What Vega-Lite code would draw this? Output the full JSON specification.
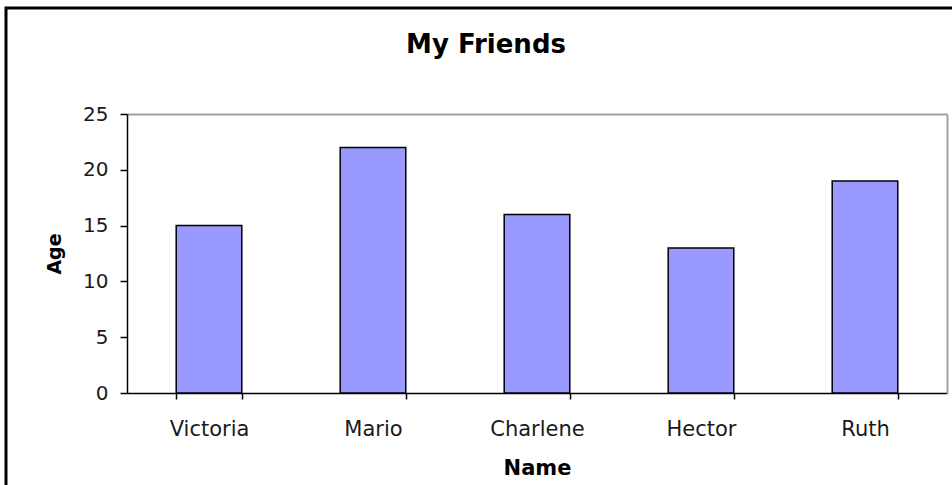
{
  "$schema": "https://vega.github.io/schema/vega-lite/v6.json",
  "autosize": "none",
  "width": 960,
  "height": 490,
  "padding": {"left": 6, "top": 8, "right": 0, "bottom": 0},
  "background": "white",
  "config": {
    "font": "DejaVu Sans",
    "view": {"stroke": "#000000", "strokeWidth": 3},
    "axis": {
      "grid": false,
      "labelFont": "DejaVu Sans",
      "labelColor": "#1a1a1a",
      "titleFont": "DejaVu Sans",
      "titleFontWeight": "bold",
      "titleColor": "#000000",
      "domainColor": "#000000",
      "tickColor": "#000000",
      "domainWidth": 1.5,
      "tickWidth": 1.5
    }
  },
  "title": {
    "text": "My Friends",
    "font": "DejaVu Sans",
    "fontSize": 26,
    "fontWeight": "bold",
    "color": "#000000",
    "anchor": "middle",
    "baseline": "alphabetic",
    "offset": -71
  },
  "data": {
    "values": [
      {"Name": "Victoria", "Age": 15},
      {"Name": "Mario", "Age": 22},
      {"Name": "Charlene", "Age": 16},
      {"Name": "Hector", "Age": 13},
      {"Name": "Ruth", "Age": 19}
    ]
  },
  "layer": [
    {
      "mark": {"type": "bar", "fill": "#9999ff", "strokeWidth": 0},
      "encoding": {
        "x": {
          "field": "Name",
          "type": "nominal",
          "sort": null,
          "scale": {"range": [121, 941], "paddingInner": 0.6, "paddingOuter": 0.3},
          "axis": {
            "orient": "bottom",
            "offset": -105,
            "title": "Name",
            "titleFontSize": 21,
            "titlePadding": 18,
            "labelFontSize": 21,
            "labelAngle": 0,
            "labelPadding": 19,
            "tickSize": 6,
            "tickBand": "extent"
          }
        },
        "y": {
          "field": "Age",
          "type": "quantitative",
          "scale": {"domain": [0, 25], "range": [385, 106], "nice": false},
          "axis": {
            "orient": "left",
            "offset": -121,
            "title": "Age",
            "titleFontSize": 19,
            "titlePadding": 18,
            "labelFontSize": 20,
            "labelPadding": 12,
            "tickSize": 7,
            "values": [0, 5, 10, 15, 20, 25]
          }
        }
      }
    },
    {
      "mark": {"type": "bar", "fillOpacity": 0, "stroke": "#000000", "strokeWidth": 1.5},
      "encoding": {
        "x": {
          "field": "Name",
          "type": "nominal",
          "sort": null,
          "axis": {
            "orient": "top",
            "offset": -106,
            "title": null,
            "labels": false,
            "ticks": false,
            "domainColor": "#a0a0a0",
            "domainWidth": 2
          }
        },
        "y": {
          "field": "Age",
          "type": "quantitative",
          "axis": {
            "orient": "right",
            "offset": -19,
            "title": null,
            "labels": false,
            "ticks": false,
            "domainColor": "#a0a0a0",
            "domainWidth": 2
          }
        }
      }
    }
  ],
  "resolve": {"axis": {"x": "independent", "y": "independent"}}
}
